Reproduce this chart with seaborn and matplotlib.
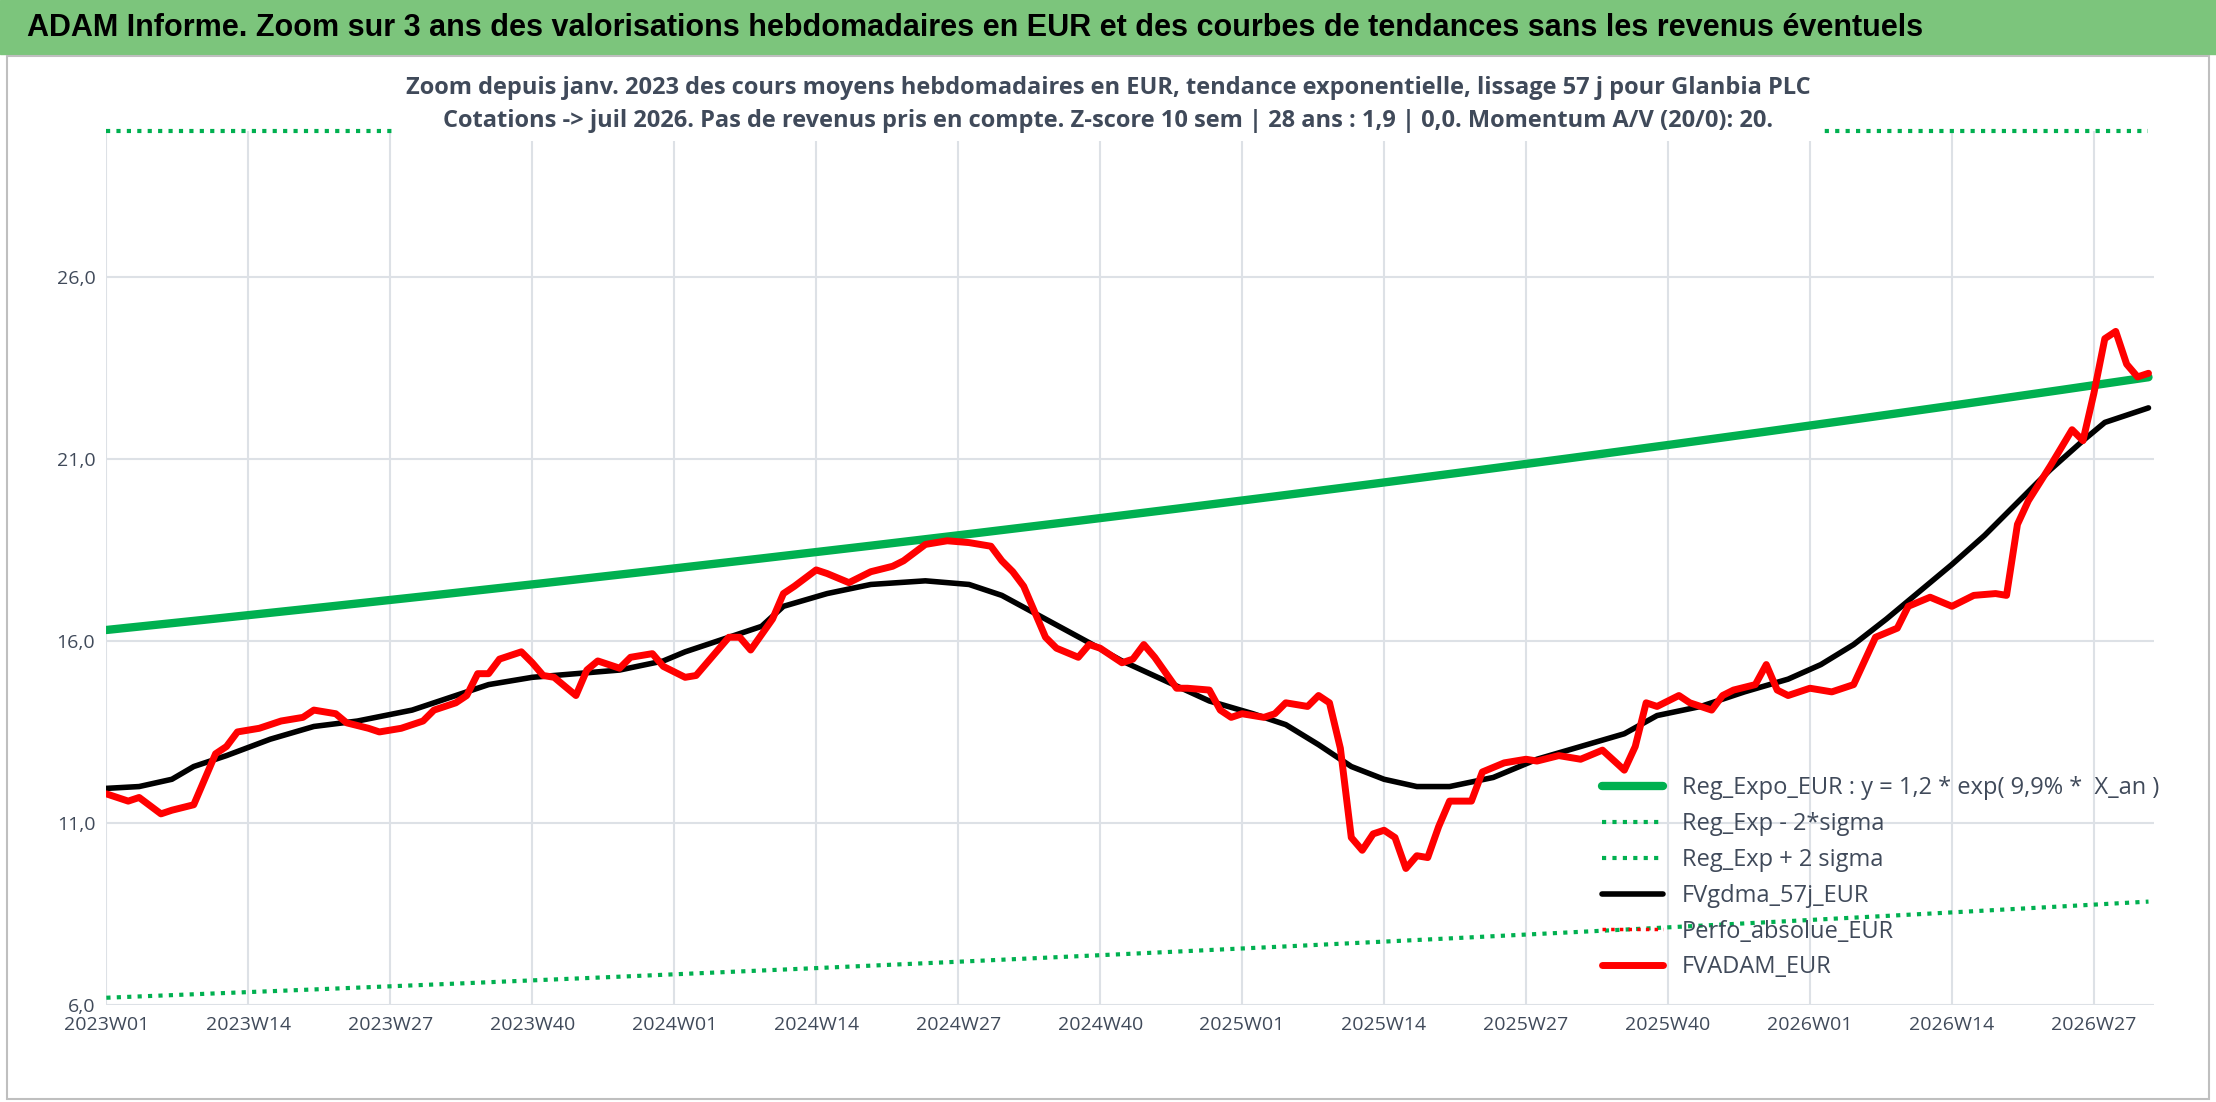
import numpy as np
import pandas as pd
import matplotlib
matplotlib.use("Agg")
import matplotlib.pyplot as plt
import seaborn as sns

# ---- data ----
n_weeks = 188
tick_labels = ["2023W01","2023W14","2023W27","2023W40","2024W01","2024W14","2024W27",
               "2024W40","2025W01","2025W14","2025W27","2025W40","2026W01","2026W14","2026W27"]
tick_pos = [0,13,26,39,52,65,78,91,104,117,130,143,156,169,182]

red_idx = [0,2,3,5,6,8,10,11,12,14,16,18,19,21,22,24,25,27,29,30,32,33,34,35,36,38,39,40,41,43,44,45,47,48,50,51,53,54,55,57,58,59,61,62,63,65,66,68,70,72,73,75,77,79,81,82,83,84,86,87,89,90,91,93,94,95,96,98,99,101,102,103,104,106,107,108,110,111,112,113,114,115,116,117,118,119,120,121,122,123,125,126,128,130,131,133,135,137,139,140,141,142,144,145,147,148,149,151,152,153,154,156,158,160,161,162,164,165,167,169,171,173,174,175,176,178,179,180,181,182,183,184,185,186,187]
red_val = [11.8,11.6,11.7,11.25,11.35,11.5,12.9,13.1,13.5,13.6,13.8,13.9,14.1,14.0,13.75,13.6,13.5,13.6,13.8,14.1,14.3,14.5,15.1,15.1,15.5,15.7,15.4,15.05,15.0,14.5,15.2,15.45,15.25,15.55,15.65,15.3,15.0,15.05,15.4,16.1,16.1,15.75,16.6,17.3,17.5,17.95,17.85,17.6,17.9,18.05,18.2,18.65,18.75,18.7,18.6,18.2,17.9,17.5,16.1,15.8,15.55,15.9,15.8,15.4,15.5,15.9,15.55,14.7,14.7,14.65,14.1,13.9,14.0,13.9,14.0,14.3,14.2,14.5,14.3,13.05,10.6,10.25,10.7,10.8,10.6,9.75,10.1,10.05,10.9,11.6,11.6,12.4,12.65,12.75,12.7,12.85,12.75,13.0,12.45,13.1,14.3,14.2,14.5,14.3,14.1,14.5,14.65,14.8,15.35,14.65,14.5,14.7,14.6,14.8,15.45,16.1,16.35,16.95,17.2,16.95,17.25,17.3,17.25,19.2,19.85,20.8,21.3,21.8,21.5,22.8,24.3,24.5,23.6,23.25,23.35]

blk_idx = [0,3,6,8,11,15,19,23,28,32,35,39,43,47,51,53,56,60,62,66,70,75,79,82,86,90,93,97,101,105,108,111,114,117,120,123,127,131,135,139,142,146,150,154,157,160,163,166,169,172,175,178,181,183,187]
blk_val = [11.95,12.0,12.2,12.55,12.85,13.3,13.65,13.8,14.1,14.5,14.8,15.0,15.1,15.2,15.45,15.7,16.0,16.4,16.95,17.3,17.55,17.65,17.55,17.25,16.6,15.95,15.45,14.9,14.35,14.0,13.7,13.15,12.55,12.2,12.0,12.0,12.25,12.75,13.1,13.45,13.95,14.2,14.6,14.95,15.35,15.9,16.6,17.35,18.1,18.9,19.8,20.7,21.5,22.0,22.4]

reg_a = 16.3          # value at 2023W01
reg_rate = 0.099      # 9.9 % / an
low_a = 6.2           # Reg_Exp - 2*sigma at start
up_a = 40.0           # Reg_Exp + 2 sigma at start (off scale)

# ---- build ----
wk = np.arange(n_weeks)
t = wk / 52.18
reg = reg_a * np.exp(reg_rate * t)
low = low_a * np.exp(reg_rate * t)
YMAX = 30.0
up = np.minimum(up_a * np.exp(reg_rate * t), YMAX)

sns.set_theme(style="white")
plt.rcParams['font.family'] = ['Open Sans', 'DejaVu Sans']

fig = plt.figure(figsize=(22.16, 11.02), dpi=100)
ax = fig.add_axes([0.048, 0.088, 0.924, 0.793])

txt = "#404a5a"
sns.lineplot(x=wk, y=reg, ax=ax, color="#00b050", lw=6, label="Reg_Expo_EUR : y = 1,2 * exp( 9,9% *  X_an )", zorder=3)
sns.lineplot(x=wk, y=low, ax=ax, color="#00b050", lw=3, ls=(0, (1, 1.5)), label="Reg_Exp - 2*sigma", zorder=3)
ax.plot(wk, up, color="#00b050", lw=3, ls=(0, (1, 1.5)), label="Reg_Exp + 2 sigma", zorder=3, clip_on=False)
sns.lineplot(x=blk_idx, y=blk_val, ax=ax, color="black", lw=4, label="FVgdma_57j_EUR", zorder=4)
ax.plot([], [], color="red", lw=2.5, ls=(0, (1, 1.5)), label="Perfo_absolue_EUR")
sns.lineplot(x=red_idx, y=red_val, ax=ax, color="#ff0000", lw=5, label="FVADAM_EUR", zorder=5)

ax.set_xlim(0, 187.5)
ax.set_ylim(6, YMAX)
ax.set_yticks([6, 11, 16, 21, 26])
ax.set_yticklabels(["6,0", "11,0", "16,0", "21,0", "26,0"], color=txt, fontsize=14)
ax.set_xticks(tick_pos)
ax.set_xticklabels(tick_labels, color=txt, fontsize=14)
ax.tick_params(length=0, pad=8)
ax.grid(True, color="#dde1e6", lw=1.5)
for s in ax.spines.values():
    s.set_visible(False)
ax.set_xlabel("")
ax.set_ylabel("")

leg = ax.legend(loc="lower left", bbox_to_anchor=(0.72, 0.005), frameon=False, fontsize=17,
                handlelength=2.6, labelspacing=0.5, labelcolor=txt)

fig.text(0.5, 0.905, "Zoom depuis janv. 2023 des cours moyens hebdomadaires en EUR, tendance exponentielle, lissage 57 j pour Glanbia PLC\n"
         "Cotations -> juil 2026. Pas de revenus pris en compte. Z-score 10 sem | 28 ans : 1,9 | 0,0. Momentum A/V (20/0): 20.",
         ha="center", va="center", fontsize=17, fontweight="bold", color=txt, linespacing=1.5,
         bbox=dict(facecolor="white", edgecolor="none", pad=6), zorder=10)

fig.patches.append(plt.Rectangle((0, 0.951), 1, 0.049, transform=fig.transFigure, color="#7cc57c", zorder=0))
fig.patches.append(plt.Rectangle((0.003, 0.003), 0.994, 0.946, transform=fig.transFigure, fill=False,
                                 edgecolor="#bfbfbf", lw=1.5))
fig.text(0.012, 0.975, "ADAM Informe. Zoom sur 3 ans des valorisations hebdomadaires en EUR et des courbes de tendances sans les revenus éventuels",
         ha="left", va="center", fontsize=22, fontweight="bold", color="black",
         family=['Liberation Sans Narrow', 'Liberation Sans', 'DejaVu Sans'])

fig.savefig("out.png", dpi=100)
